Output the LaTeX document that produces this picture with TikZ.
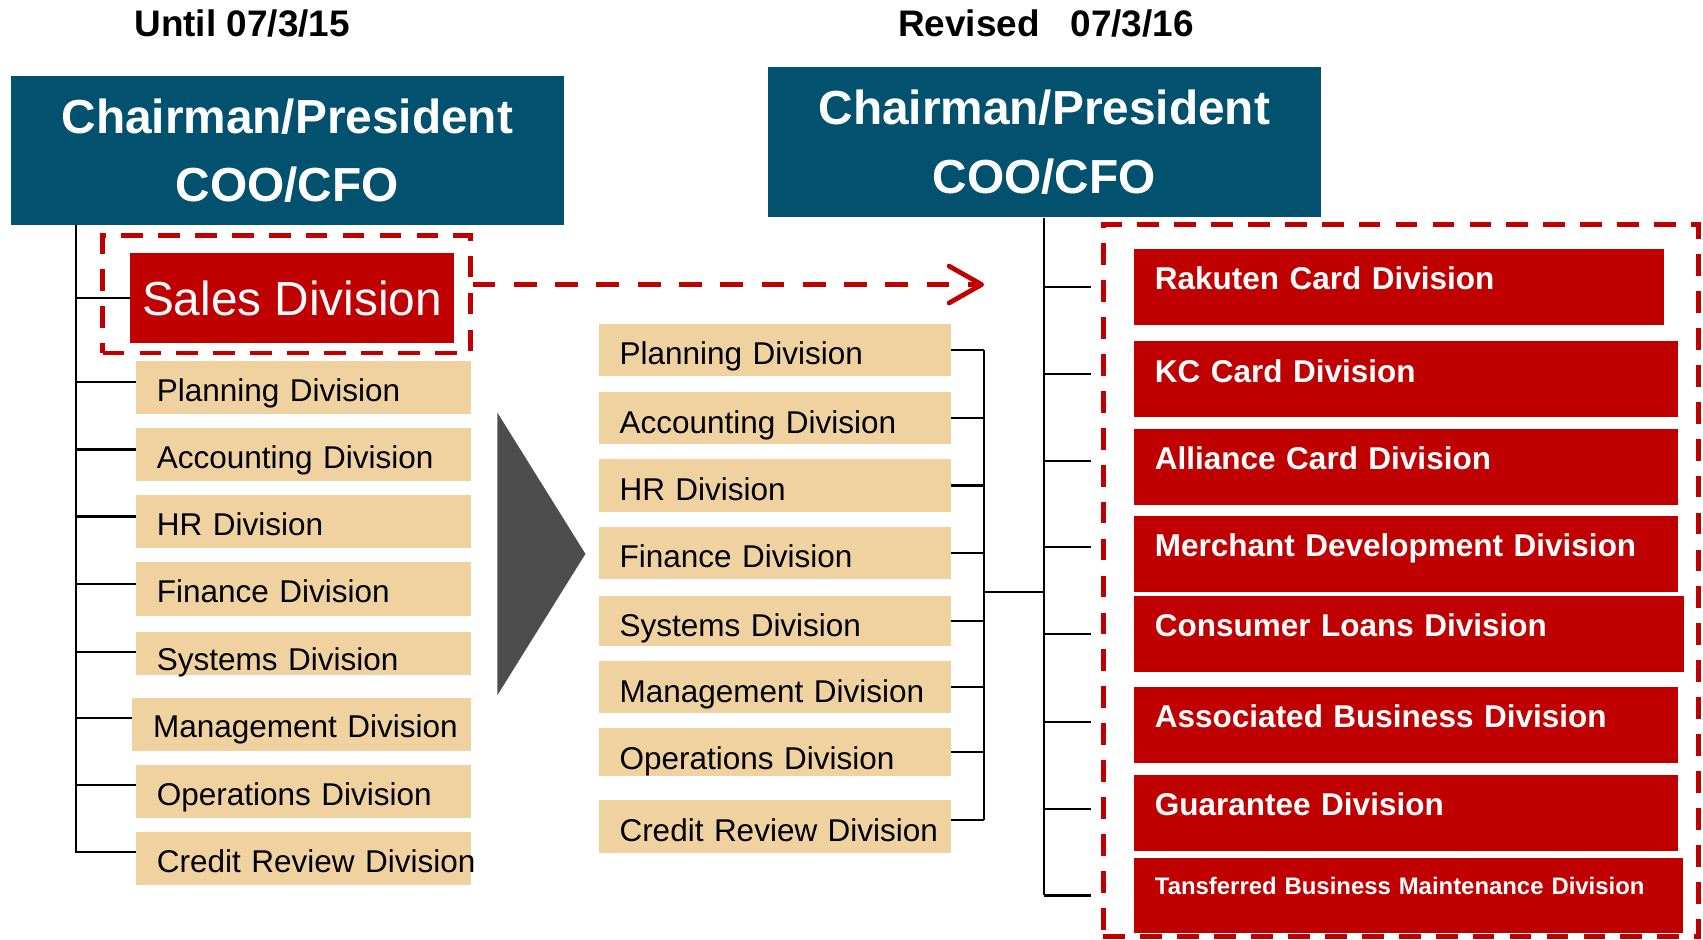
\documentclass[tikz,border=0pt]{standalone}
\usepackage{fontspec}
\setmainfont{Liberation Sans}
\usepackage{tikz}
\usetikzlibrary{
  arrows.meta,
  positioning
}

\definecolor{chairteal}{RGB}{2,81,110}
\definecolor{divred}{RGB}{192,0,0}
\definecolor{staffbeige}{RGB}{240,209,160}
\definecolor{shiftgray}{RGB}{77,77,77}

% division names never break across lines
\hyphenpenalty=10000
\exhyphenpenalty=10000

\begin{document}
\begin{tikzpicture}[
    x=0.5pt, y=-0.5pt,
    node distance=6pt,
    datehead/.style={font=\fontsize{17}{20}\selectfont\bfseries, anchor=base},
    chair/.style={fill=chairteal, text=white, align=center, inner sep=0pt,
                  minimum width=254.5pt, minimum height=68.5pt,
                  font=\fontsize{22}{31.5}\selectfont\bfseries},
    salesbox/.style={fill=divred, text=white, inner sep=0pt,
                     minimum width=149pt, minimum height=41.5pt,
                     font=\fontsize{22}{26}\selectfont},
    staff/.style={fill=staffbeige, inner xsep=9.5pt, inner ysep=0pt,
                  text width=135pt, align=left,
                  text height=18.5pt, text depth=6pt,
                  font=\fontsize{14.5}{17}\selectfont},
    staffr/.style={staff, text width=143pt,
                   text height=18.75pt, text depth=5.25pt},
    card/.style={fill=divred, text=white, inner xsep=9.5pt, inner ysep=0pt,
                 text width=231.5pt, align=left,
                 text height=18.8pt, text depth=16.2pt,
                 font=\fontsize{14.5}{17}\selectfont\bfseries},
    conn/.style={line width=1pt, black},
    dashfrm/.style={draw=divred, line width=2.2pt,
                    dash pattern=on 10pt off 7pt},
    shiftarr/.style={draw=divred, line width=2.2pt,
                     dash pattern=on 10.5pt off 8.5pt,
                     -{Straight Barb[length=15pt,width=17pt,round]}},
  ]

  \path[use as bounding box, fill=white] (0,0) rectangle (1568,865);

  % ---- Headings ----
  \node[datehead] (ldate) at (223,34) {Until 07/3/15};
  \node[datehead] (rdate) at (963,34) {Revised\ \ \ 07/3/16};

  % ---- Old structure ----
  \node[chair] (lchair) at (264.5,138.5) {Chairman/President\\COO/CFO};
  \node[salesbox] (lsales) at (269,274.5) {Sales Division};
  \node[dashfrm, minimum width=169.25pt, minimum height=54pt]
    (salesfrm) at (263.75,271) {};

  \node[staff, anchor=north west] (lplan) at (125,332) {Planning Division};
  \node[staff, below=of lplan] (lacct) {Accounting Division};
  \node[staff, below=of lacct] (lhr) {HR Division};
  \node[staff, below=of lhr] (lfin) {Finance Division};
  \node[staff, below=7pt of lfin, text height=18pt, text depth=2pt]
    (lsys) {Systems Division};
  \node[staff, below=10pt of lsys.south east, anchor=north east,
        text width=136.75pt] (lmgmt) {Management~Division};
  \node[staff, below=of lmgmt.south east, anchor=north east]
    (lops) {Operations Division};
  \node[staff, below=of lops] (lcredit) {Credit~Review~Division};

  % ---- Change marker ----
  \fill[shiftgray] (458,380) -- (458,640) -- (539,510) -- cycle;
  \coordinate (movetip) at (906,262);
  \draw[shiftarr] ([yshift=4.5pt]salesfrm.east) -- (movetip);

  % ---- New structure ----
  \node[chair, minimum height=69pt] (rchair) at (961.5,131)
    {Chairman/President\\COO/CFO};

  \node[staffr, anchor=north west] (mplan) at (551,298) {Planning Division};
  \node[staffr, below=7pt of mplan] (macct) {Accounting Division};
  \node[staffr, below=6.5pt of macct] (mhr) {HR Division};
  \node[staffr, below=6.5pt of mhr] (mfin) {Finance Division};
  \node[staffr, below=7.5pt of mfin, text depth=4.5pt]
    (msys) {Systems Division};
  \node[staffr, below=6.5pt of msys] (mmgmt) {Management Division};
  \node[staffr, below=6.5pt of mmgmt, text depth=3pt]
    (mops) {Operations Division};
  \node[staffr, below=11pt of mops] (mcredit) {Credit~Review~Division};

  \node[card, anchor=north west, text width=225pt] (rcard) at (1044,229)
    {Rakuten Card Division};
  \node[card, below=7pt of rcard.south west, anchor=north west]
    (rkc) {KC Card Division};
  \node[card, below=5pt of rkc.south west, anchor=north west]
    (rally) {Alliance Card Division};
  \node[card, below=4.5pt of rally.south west, anchor=north west]
    (rmerch) {Merchant Development Division};
  \node[card, below=1.5pt of rmerch.south west, anchor=north west,
        text width=234pt] (rloans) {Consumer Loans Division};
  \node[card, below=6.5pt of rloans.south west, anchor=north west]
    (rassoc) {Associated Business Division};
  \node[card, below=5pt of rassoc.south west, anchor=north west]
    (rguar) {Guarantee Division};
  \node[card, below=3pt of rguar.south west, anchor=north west,
        text width=233.5pt, text height=17pt, text depth=17.5pt,
        font=\fontsize{11}{13}\selectfont\bfseries]
    (rtrans) {Tansferred Business Maintenance Division};
  \node[dashfrm, minimum width=274pt, minimum height=327.5pt]
    (cardfrm) at (1290,534.5) {};

  % ---- Old tree ----
  \coordinate (ltrunk) at ([xshift=30pt]lchair.south west);
  \draw[conn] (ltrunk) -- ([yshift=-10pt]lcredit.north west -| ltrunk);
  \draw[conn] (lsales.west -| ltrunk) -- (lsales.west);
  \draw[conn] ([yshift=-10pt]lplan.north west -| ltrunk)
    -- ([yshift=-10pt]lplan.north west);
  \draw[conn] ([yshift=-10pt]lacct.north west -| ltrunk)
    -- ([yshift=-10pt]lacct.north west);
  \draw[conn] ([yshift=-10pt]lhr.north west -| ltrunk)
    -- ([yshift=-10pt]lhr.north west);
  \draw[conn] ([yshift=-10pt]lfin.north west -| ltrunk)
    -- ([yshift=-10pt]lfin.north west);
  \draw[conn] ([yshift=-9.5pt]lsys.north west -| ltrunk)
    -- ([yshift=-9.5pt]lsys.north west);
  \draw[conn] ([yshift=-9.5pt]lmgmt.north west -| ltrunk)
    -- ([yshift=-9.5pt]lmgmt.north west);
  \draw[conn] ([yshift=-9.5pt]lops.north west -| ltrunk)
    -- ([yshift=-9.5pt]lops.north west);
  \draw[conn] ([yshift=-9.5pt]lcredit.north west -| ltrunk)
    -- ([yshift=-9.5pt]lcredit.north west);

  % ---- New tree ----
  \coordinate (rtrunk) at (rchair.south);
  \coordinate (mbus) at (906,545);
  \draw[conn] (rtrunk) -- (rtrans.west -| rtrunk);
  \draw[conn] (mbus) -- (mbus -| rtrunk);
  \draw[conn] (mplan.east -| mbus) -- ([yshift=3pt]mcredit.east -| mbus);
  \draw[conn] (mplan.east) -- (mplan.east -| mbus);
  \draw[conn] (macct.east) -- (macct.east -| mbus);
  \draw[conn] (mhr.east) -- (mhr.east -| mbus);
  \draw[conn] (mfin.east) -- (mfin.east -| mbus);
  \draw[conn] (msys.east) -- (msys.east -| mbus);
  \draw[conn] (mmgmt.east) -- (mmgmt.east -| mbus);
  \draw[conn] (mops.east) -- (mops.east -| mbus);
  \draw[conn] ([yshift=3pt]mcredit.east) -- ([yshift=3pt]mcredit.east -| mbus);

  \draw[conn] (rcard.west -| rtrunk) -- ++(21.5pt,0);
  \draw[conn] ([yshift=2.5pt]rkc.west -| rtrunk) -- ++(21.5pt,0);
  \draw[conn] ([yshift=2.75pt]rally.west -| rtrunk) -- ++(21.5pt,0);
  \draw[conn] ([yshift=3pt]rmerch.west -| rtrunk) -- ++(21.5pt,0);
  \draw[conn] (rloans.west -| rtrunk) -- ++(21.5pt,0);
  \draw[conn] ([yshift=1.5pt]rassoc.west -| rtrunk) -- ++(21.5pt,0);
  \draw[conn] ([yshift=1.5pt]rguar.west -| rtrunk) -- ++(21.5pt,0);
  \draw[conn] (rtrans.west -| rtrunk) -- ++(21.5pt,0);

\end{tikzpicture}
\end{document}
